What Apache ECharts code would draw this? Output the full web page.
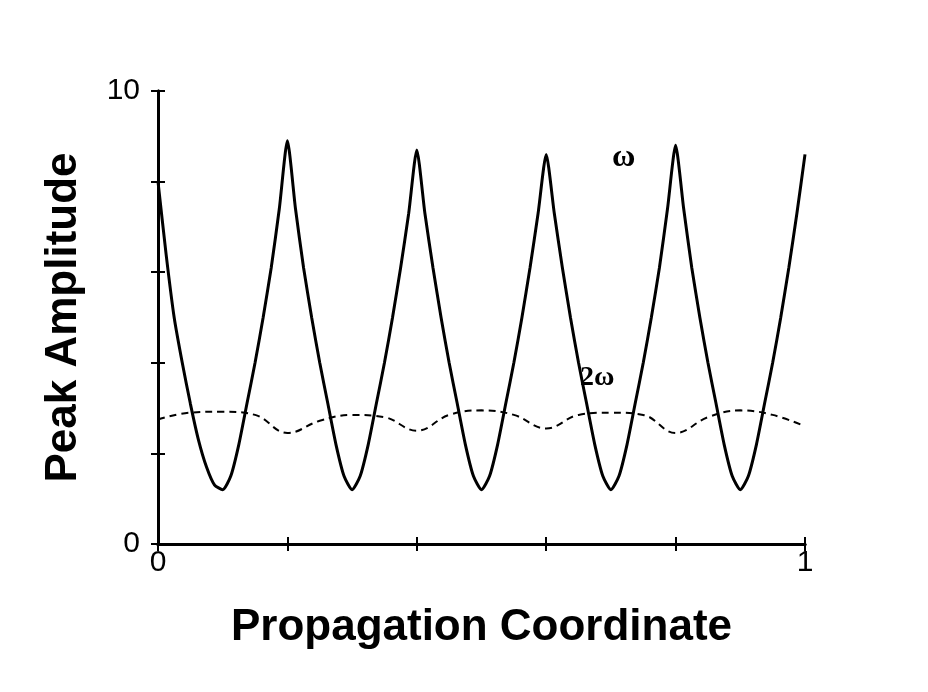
<!DOCTYPE html>
<html>
<head>
<meta charset="utf-8">
<script src="https://cdn.jsdelivr.net/npm/echarts@6/dist/echarts.min.js"></script>
<style>
  html, body { margin: 0; padding: 0; background: #fff; }
  #chart { width: 928px; height: 692px; }
</style>
</head>
<body>
<div id="chart"></div>
<script>
// --- data ---
const omegaX = [0, 0.0125, 0.025, 0.0375, 0.05, 0.0625, 0.075, 0.0875, 0.1, 0.1125, 0.125, 0.1375, 0.15, 0.1625, 0.175, 0.1875, 0.2,
  0.2125, 0.225, 0.2375, 0.25, 0.2625, 0.275, 0.2875, 0.3, 0.3125, 0.325, 0.3375, 0.35, 0.3625, 0.375, 0.3875, 0.4,
  0.4125, 0.425, 0.4375, 0.45, 0.4625, 0.475, 0.4875, 0.5, 0.5125, 0.525, 0.5375, 0.55, 0.5625, 0.575, 0.5875, 0.6,
  0.6125, 0.625, 0.6375, 0.65, 0.6625, 0.675, 0.6875, 0.7, 0.7125, 0.725, 0.7375, 0.75, 0.7625, 0.775, 0.7875, 0.8,
  0.8125, 0.825, 0.8375, 0.85, 0.8625, 0.875, 0.8875, 0.9, 0.9125, 0.925, 0.9375, 0.95, 0.9625, 0.975, 0.9875, 1.0];
const omegaY = [8.0, 6.4, 5.0, 4.0, 3.1, 2.3, 1.7, 1.3, 1.2, 1.5, 2.2, 3.1, 4.0, 5.0, 6.1, 7.4, 8.9,
  7.4, 6.1, 5.0, 4.0, 3.1, 2.2, 1.5, 1.2, 1.5, 2.2, 3.1, 4.0, 5.0, 6.1, 7.3, 8.7,
  7.3, 6.1, 5.0, 4.0, 3.1, 2.2, 1.5, 1.2, 1.5, 2.2, 3.1, 4.0, 5.0, 6.1, 7.3, 8.6,
  7.3, 6.1, 5.0, 4.0, 3.1, 2.2, 1.5, 1.2, 1.5, 2.2, 3.1, 4.0, 5.0, 6.1, 7.4, 8.8,
  7.4, 6.1, 5.0, 4.0, 3.1, 2.2, 1.5, 1.2, 1.5, 2.2, 3.1, 4.0, 5.0, 6.1, 7.3, 8.6];
const twoOmegaX = [0, 0.05, 0.1, 0.15, 0.2, 0.25, 0.3, 0.35, 0.4, 0.45, 0.5, 0.55, 0.6, 0.65, 0.7, 0.75, 0.8, 0.85, 0.9, 0.95, 1.0];
const twoOmegaY = [2.75, 2.9, 2.92, 2.85, 2.45, 2.72, 2.85, 2.8, 2.5, 2.85, 2.95, 2.85, 2.55, 2.85, 2.9, 2.85, 2.45, 2.8, 2.95, 2.85, 2.6];
const xTickLabels = { 0: '0', 1: '1' };
const yTickLabels = { 0: '0', 10: '10' };

const chart = echarts.init(document.getElementById('chart'));
const pair = (xs, ys) => xs.map((x, i) => [x, ys[i]]);
const tickStyle = { inside: true, length: 7, lineStyle: { color: '#000', width: 2 } };
const lineStyle = { lineStyle: { color: '#000', width: 3 } };
const labelFont = { color: '#000', fontSize: 30, fontFamily: 'Liberation Sans' };
const nameFont = { fontSize: 44, fontWeight: 'bold', fontFamily: 'Liberation Sans', color: '#000' };

chart.setOption({
  animation: false,
  grid: { left: 158, top: 91, right: 123, bottom: 148 },
  xAxis: [
    {
      type: 'value', min: 0, max: 1, interval: 0.2,
      axisLine: lineStyle, axisTick: tickStyle, splitLine: { show: false },
      axisLabel: Object.assign({ formatter: v => xTickLabels[v] || '', margin: 4 }, labelFont),
      name: 'Propagation Coordinate', nameLocation: 'middle', nameGap: 62,
      nameTextStyle: nameFont
    },
    {
      type: 'value', position: 'top', min: 0, max: 1, interval: 0.2,
      axisLine: lineStyle, axisTick: tickStyle, axisLabel: { show: false }, splitLine: { show: false }
    }
  ],
  yAxis: [
    {
      type: 'value', min: 0, max: 10, interval: 2,
      axisLine: lineStyle, axisTick: tickStyle, splitLine: { show: false },
      axisLabel: Object.assign({ formatter: v => yTickLabels[v] || '', margin: 18 }, labelFont),
      name: 'Peak Amplitude', nameLocation: 'middle', nameGap: 72, nameRotate: 90,
      nameTextStyle: nameFont
    },
    {
      type: 'value', position: 'right', min: 0, max: 10, interval: 2,
      axisLine: lineStyle, axisTick: tickStyle, axisLabel: { show: false }, splitLine: { show: false }
    }
  ],
  series: [
    {
      name: 'ω', type: 'line', data: pair(omegaX, omegaY), showSymbol: false, smooth: 0.2,
      lineStyle: { color: '#000', width: 3 }
    },
    {
      name: '2ω', type: 'line', data: pair(twoOmegaX, twoOmegaY), showSymbol: false, smooth: 0.4,
      lineStyle: { color: '#000', width: 2, type: [7, 5] }
    }
  ],
  graphic: [
    { type: 'text', left: 612, top: 142, style: { text: 'ω', font: 'bold 32px "Liberation Serif"', fill: '#000' } },
    { type: 'text', left: 580, top: 364, style: { text: '2ω', font: 'bold 28px "Liberation Serif"', fill: '#000' } }
  ]
});
</script>
</body>
</html>
